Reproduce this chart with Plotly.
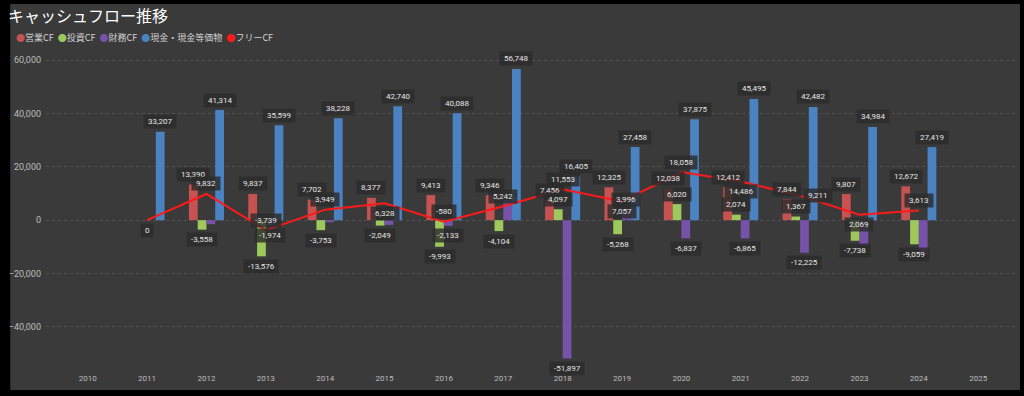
import plotly.graph_objects as go

# ---- data ----
years = list(range(2010, 2026))
data_years = list(range(2011, 2025))
operating_cf = [None, 13390, 9837, 7702, 8377, 9413, 9346, 7456, 12325, 12038, 12412, 7844, 9807, 12672]
investing_cf = [None, -3558, -13576, -3753, -2049, -9993, -4104, 4097, -5268, 6020, 2074, 1367, -7738, -9059]
financing_cf = [None, -1500, -1974, -800, -1800, -2133, 7500, -51897, 3996, -6837, -6865, -12225, -9400, -13000]
cash = [33207, 41314, 35599, 38228, 42740, 40088, 56748, 16405, 27458, 37875, 45495, 42482, 34984, 27419]
free_cf = [0, 9832, -3739, 3949, 6328, -580, 5242, 11553, 7057, 18058, 14486, 9211, 2069, 3613]
# which financing labels are visible in the reference
financing_label_shown = [False, False, True, False, False, True, False, True, True, True, True, True, False, False]
# where each free-CF label sits relative to its point (style, not data)
free_label_pos = ["below", "above", "above", "above", "below", "above", "above", "above",
                  "below", "above", "below", "right", "below", "above"]
y_ticks = [-40000, -20000, 0, 20000, 40000, 60000]

names = ["営業CF", "投資CF", "財務CF", "現金・現金等価物", "フリーCF"]
colors = ["#c65352", "#9dc95c", "#7653a8", "#4b82c2", "#ff1a1a"]

bar_series = [operating_cf, investing_cf, financing_cf, cash]
bar_labels = [
    [v is not None for v in operating_cf],
    [v is not None for v in investing_cf],
    financing_label_shown,
    [True] * len(cash),
]

BARGAP = 0.41
BW = (1 - BARGAP) / 4

fig = go.Figure()
for name, col, vals in zip(names[:4], colors[:4], bar_series):
    fig.add_trace(go.Bar(x=data_years, y=vals, name=name, marker=dict(color=col, line=dict(width=0)),
                         showlegend=False, hoverinfo="x+y+name"))
fig.add_trace(go.Scatter(x=data_years, y=free_cf, name=names[4], mode="lines",
                         line=dict(color=colors[4], width=2), showlegend=False))

label_font = dict(family="Roboto, DejaVu Sans", size=8, color="#e6e6e6")
box = "rgba(44,44,44,0.82)"
NB = "\u00a0"
annotations = []
for i, (vals, shown) in enumerate(zip(bar_series, bar_labels)):
    off = (i - 1.5) * BW
    for yr, v, s in zip(data_years, vals, shown):
        if v is None or not s:
            continue
        annotations.append(dict(x=yr + off, y=v, xref="x", yref="y", text=f"{NB}{v:,}{NB}", showarrow=False,
                                yshift=10 if v >= 0 else -10, font=label_font, bgcolor=box, borderpad=2))
shift_map = {"above": (0, 10), "below": (0, -10), "right": (18, 0)}
for yr, v, pos in zip(data_years, free_cf, free_label_pos):
    xs, ys = shift_map[pos]
    annotations.append(dict(x=yr, y=v, xref="x", yref="y", text=f"{NB}{v:,}{NB}", showarrow=False,
                            xshift=xs, yshift=ys, font=label_font, bgcolor=box, borderpad=2))

# legend drawn as text row (tight Power BI style)
legend_text = "  ".join(f"<span style='color:{c}'>●</span>{n}" for n, c in zip(names, colors))

L, R, T, B = 40, 9, 55, 24
W, H = 1024, 396
pw, ph = W - L - R, H - T - B
annotations.append(dict(xref="paper", yref="paper", x=(8 - L) / pw, y=(H - B - 38) / ph,
                        xanchor="left", yanchor="middle", showarrow=False, text=legend_text,
                        font=dict(family="Noto Sans CJK JP", size=9, color="#d4d4d4")))

shapes = [dict(type="rect", xref="paper", yref="paper", layer="below",
               x0=(4 - L) / pw, x1=(W - 4 - L) / pw, y0=-(390 - (H - B)) / ph, y1=(H - B - 4) / ph,
               fillcolor="#3a3a3a", line=dict(width=0))]

fig.update_layout(
    width=W, height=H,
    margin=dict(l=L, r=R, t=T, b=B, pad=0),
    paper_bgcolor="#000000", plot_bgcolor="rgba(0,0,0,0)",
    barmode="group", bargap=BARGAP, bargroupgap=0,
    title=dict(text="キャッシュフロー推移", x=8 / W, y=1 - 16 / H, xanchor="left", yanchor="middle",
               font=dict(family="Noto Sans CJK JP", size=16, color="#ffffff")),
    xaxis=dict(range=[2009.297, 2025.62], tickvals=years, ticktext=[str(y) for y in years],
               showgrid=False, zeroline=False, showline=False, ticks="",
               tickfont=dict(family="Roboto, DejaVu Sans", size=8, color="#bdbdbd")),
    yaxis=dict(range=[-57000, 62000], tickvals=y_ticks, tickformat=",d",
               showgrid=True, gridcolor="#525252", griddash="dot", gridwidth=1,
               zeroline=False, showline=False, ticks="", ticklabelstandoff=4,
               tickfont=dict(family="Roboto, DejaVu Sans", size=9, color="#bdbdbd")),
    annotations=annotations, shapes=shapes,
    font=dict(family="Noto Sans CJK JP"),
    showlegend=False,
)

fig.write_html("out.html", config={"displayModeBar": False},
               post_script="document.body.style.margin='0';document.body.style.background='#000';")
